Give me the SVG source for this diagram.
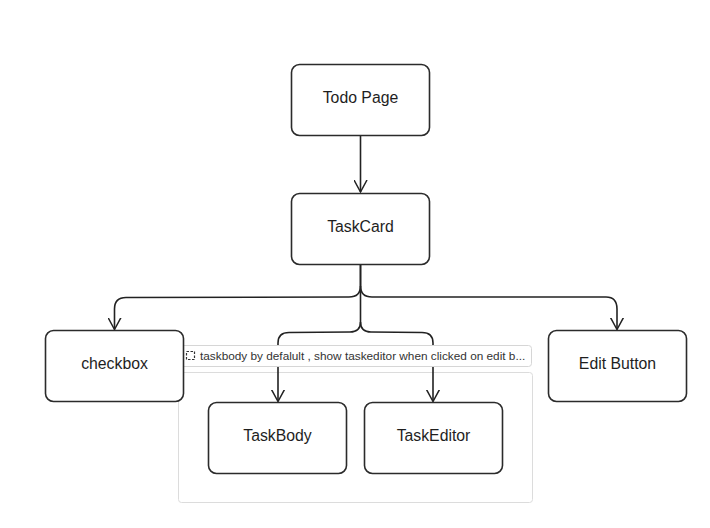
<svg xmlns="http://www.w3.org/2000/svg" width="710" height="528" viewBox="0 0 710 528">
<defs>
<style>
.node rect{fill:#fff;stroke:#2b2b2b;stroke-width:1.6}
.node text{font-family:"Liberation Sans",Arial,sans-serif;font-size:15.8px;fill:#1e1e1e;text-anchor:middle;dominant-baseline:central}
.edge{fill:none;stroke:#222;stroke-width:1.6}
.grp{fill:#fff;stroke:#dcdcdc;stroke-width:1}
.lbl{font-family:"Liberation Sans",Arial,sans-serif;font-size:11.8px;fill:#333}
</style>
<marker id="arr" viewBox="0 0 14 14" refX="12" refY="7" markerWidth="14" markerHeight="14" markerUnits="userSpaceOnUse" orient="auto">
<path d="M0,0.5 L12,7 L0,13.5" fill="none" stroke="#222" stroke-width="1.5"/>
</marker>
</defs>
<rect width="710" height="528" fill="#fff"/>
<g id="group-container">
<rect class="grp" x="178.5" y="372.5" width="354" height="130" rx="3"/>
</g>
<g id="connectors">
<path class="edge" d="M360.5,135 L360.5,192" marker-end="url(#arr)"/>
<path class="edge" d="M360.5,265 L360.5,286 Q360.5,297 349,297 L126,297.5 Q114.5,297.5 114.5,309 L114.5,329.5" marker-end="url(#arr)"/>
<path class="edge" d="M360.5,286 Q360.5,297 372,297 L606,297 Q617,297 617,309 L617,329.5" marker-end="url(#arr)"/>
<path class="edge" d="M360.5,265 L360.5,322 Q360.5,332 350,332 L289,332.5 Q278,332.5 278,343 L278,401.5" marker-end="url(#arr)"/>
<path class="edge" d="M360.5,322 Q360.5,332 371,332 L422,332.5 Q433,332.5 433,343 L433,401.5" marker-end="url(#arr)"/>
</g>
<g id="group-label">
<rect x="179.5" y="345.5" width="352" height="21" rx="3" fill="#fff" stroke="#d6d6d6" stroke-width="1"/>
<rect x="186.5" y="351.5" width="8" height="8" fill="none" stroke="#333" stroke-width="1.2" stroke-dasharray="2.5,1.5"/>
<text class="lbl" x="200" y="359.5">taskbody by defalult , show taskeditor when clicked on edit b...</text>
</g>
<g id="node-todo" class="node">
<rect x="291.5" y="64.5" width="138" height="71" rx="8"/>
<text x="360.5" y="97">Todo Page</text>
</g>
<g id="node-taskcard" class="node">
<rect x="291.5" y="193.5" width="138" height="71" rx="8"/>
<text x="360.5" y="226">TaskCard</text>
</g>
<g id="node-checkbox" class="node">
<rect x="45.5" y="330.5" width="138" height="71" rx="8"/>
<text x="114.5" y="363">checkbox</text>
</g>
<g id="node-edit" class="node">
<rect x="548.5" y="330.5" width="138" height="71" rx="8"/>
<text x="617.5" y="363">Edit Button</text>
</g>
<g id="node-taskbody" class="node">
<rect x="208.5" y="402.5" width="138" height="71" rx="8"/>
<text x="277.5" y="435">TaskBody</text>
</g>
<g id="node-taskeditor" class="node">
<rect x="364.5" y="402.5" width="138" height="71" rx="8"/>
<text x="433.5" y="435">TaskEditor</text>
</g>
</svg>
